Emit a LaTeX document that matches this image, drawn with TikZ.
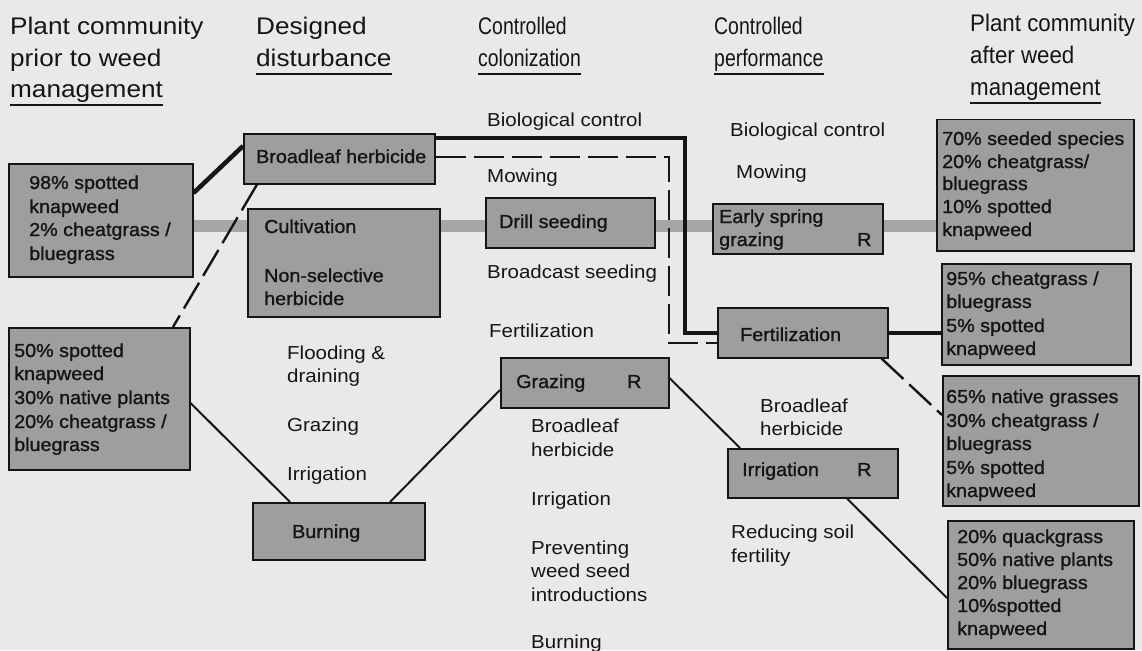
\documentclass[tikz,border=0pt]{standalone}
\usepackage{fontspec}
\setmainfont{Liberation Sans}[FakeStretch=1.09]
\newfontfamily\boxfont{Liberation Sans}[FakeStretch=1.05,FakeBold=1.2]
\newfontfamily\hdnarrow{Liberation Sans}[FakeStretch=0.81]
\newfontfamily\hdmid{Liberation Sans}[FakeStretch=0.93]
\usetikzlibrary{calc}
\definecolor{bg}{HTML}{E9E9E9}
\definecolor{boxfill}{HTML}{9E9E9E}
\definecolor{bandc}{HTML}{A6A6A6}
\definecolor{ink}{HTML}{151515}
\pgfdeclarelayer{bottom}
\pgfdeclarelayer{background}
\pgfsetlayers{bottom,background,main}
\begin{document}
\begin{tikzpicture}[x=1pt,y=-1pt,
  box/.style={draw=ink, line width=1.5pt, fill=boxfill, anchor=north west, inner sep=0pt},
  tx/.style={anchor=base west, inner sep=0pt, font=\fontsize{18.8}{22}\selectfont, text=ink},
  bx/.style={anchor=base west, inner sep=0pt, font=\fontsize{18.8}{22}\boxfont, text=ink},
  hd/.style={anchor=base west, inner sep=0pt, font=\fontsize{24}{30}\selectfont, text=ink},
  hdn/.style={anchor=base west, inner sep=0pt, font=\fontsize{24}{30}\hdnarrow, text=ink},
  hdm/.style={anchor=base west, inner sep=0pt, font=\fontsize{24}{30}\hdmid, text=ink},
  uline/.style={line width=2.4pt, draw=ink},
  thickln/.style={line width=4.5pt, draw=ink},
  dashln/.style={line width=2.4pt, draw=ink, dash pattern=on 30pt off 8pt},
  thinln/.style={line width=2pt, draw=ink},
  band/.style={line width=12pt, draw=bandc}]

\begin{pgfonlayer}{bottom}
\fill[bg] (0,0) rectangle (1142,650);
\end{pgfonlayer}
\useasboundingbox (0,0) rectangle (1142,650);

% headers
\node[hd] (h1a) at (10,35) {Plant community};
\node[hd] (h1b) at (10,67) {prior to weed};
\node[hd] (h1c) at (10,98) {management};
\node[hd] (h2a) at (256,35) {Designed};
\node[hd] (h2b) at (256,67) {disturbance};
\node[hdn] (h3a) at (478,35) {Controlled};
\node[hdn] (h3b) at (478,67) {colonization};
\node[hdn] (h4a) at (714,35) {Controlled};
\node[hdn] (h4b) at (714,67) {performance};
\node[hdm] (h5a) at (970,32) {Plant community};
\node[hdm] (h5b) at (970,64) {after weed};
\node[hdm] (h5c) at (970,96) {management};
\foreach \n in {h1c,h2b,h3b,h4b,h5c}
  \draw[uline] ($(\n.base west)+(0,7)$) -- ($(\n.base east)+(0,7)$);

% boxes
\node[box, minimum width=184pt, minimum height=113pt] (b1) at (8,163) {};
\node[box, minimum width=191pt, minimum height=50pt] (bh) at (243,133) {};
\node[box, minimum width=192pt, minimum height=108pt] (cu) at (247,208) {};
\node[box, minimum width=181pt, minimum height=142pt] (b2) at (8,327) {};
\node[box, minimum width=172pt, minimum height=57pt] (bu) at (252,502) {};
\node[box, minimum width=169pt, minimum height=50pt] (ds) at (485,197) {};
\node[box, minimum width=168pt, minimum height=50pt] (gr) at (500,357) {};
\node[box, minimum width=170pt, minimum height=50pt] (es) at (712,203) {};
\node[box, minimum width=170pt, minimum height=50pt] (fe) at (717,307) {};
\node[box, minimum width=170pt, minimum height=49pt] (ir) at (727,448) {};
\node[box, minimum width=197pt, minimum height=131pt] (r1) at (936,119) {};
\node[box, minimum width=189pt, minimum height=101pt] (r2) at (941,263) {};
\node[box, minimum width=196pt, minimum height=130pt] (r3) at (942,375) {};
\node[box, minimum width=186pt, minimum height=128pt] (r4) at (947,520) {};

% connectors
\begin{pgfonlayer}{background}
\draw[band] ($(b1.north east)+(0,63)$) -- ($(r1.north west)+(0,107)$);
\draw[thickln] ($(b1.north east)+(0,30)$) -- ($(bh.north west)+(0,13)$);
\draw[thickln] ($(bh.north east)+(0,5)$) -| ($(fe.west)+(-32,0)$) -- (fe.west);
\draw[thickln] (fe.east) -- (fe.east -| r2.west);
\draw[dashln] ($(bh.north east)+(0,24)$) -| ($(fe.north west)+(-48,36)$) -- ($(fe.north west)+(0,36)$);
\draw[dashln] ($(bh.south west)+(14,0)$) -- ($(b2.north west)+(165,0)$);
\draw[dashln] ($(fe.south east)+(-7,0)$) -- ($(r3.north west)+(0,40)$);
\draw[thinln] ($(b2.north east)+(0,76)$) -- ($(bu.north west)+(38,0)$);
\draw[thinln] ($(bu.north west)+(138,0)$) -- ($(gr.north west)+(0,33)$);
\draw[thinln] ($(gr.north east)+(0,21)$) -- ($(ir.north west)+(13,0)$);
\draw[thinln] ($(ir.south west)+(120,0)$) -- ($(r4.north west)+(0,78)$);
\end{pgfonlayer}

% box texts
\node[bx] (t1) at (29,189) {98\% spotted};
\node[bx] (t2) at (29,213) {knapweed};
\node[bx] (t3) at (29,236) {2\% cheatgrass /};
\node[bx] (t4) at (29,260) {bluegrass};
\node[bx] (t5) at (14,357) {50\% spotted};
\node[bx] (t6) at (14,380) {knapweed};
\node[bx] (t7) at (14,404) {30\% native plants};
\node[bx] (t8) at (14,428) {20\% cheatgrass /};
\node[bx] (t9) at (14,451) {bluegrass};
\node[bx] (t10) at (256,163) {Broadleaf herbicide};
\node[bx] (t11) at (264,233) {Cultivation};
\node[bx] (t12) at (264,282) {Non-selective};
\node[bx] (t13) at (264,305) {herbicide};
\node[bx] (t14) at (292,538) {Burning};
\node[bx] (t15) at (499,228) {Drill seeding};
\node[bx] (t16) at (516,388) {Grazing};
\node[bx] (t17) at (627,388) {R};
\node[bx] (t18) at (719,223) {Early spring};
\node[bx] (t19) at (719,246) {grazing};
\node[bx] (t20) at (857,246) {R};
\node[bx] (t21) at (740,341) {Fertilization};
\node[bx] (t22) at (742,476) {Irrigation};
\node[bx] (t23) at (857,476) {R};
\node[bx] (t24) at (942,145) {70\% seeded species};
\node[bx] (t25) at (942,168) {20\% cheatgrass/};
\node[bx] (t26) at (942,190) {bluegrass};
\node[bx] (t27) at (942,213) {10\% spotted};
\node[bx] (t28) at (942,236) {knapweed};
\node[bx] (t29) at (946,285) {95\% cheatgrass /};
\node[bx] (t30) at (946,308) {bluegrass};
\node[bx] (t31) at (946,332) {5\% spotted};
\node[bx] (t32) at (946,355) {knapweed};
\node[bx] (t33) at (946,403) {65\% native grasses};
\node[bx] (t34) at (946,427) {30\% cheatgrass /};
\node[bx] (t35) at (946,450) {bluegrass};
\node[bx] (t36) at (946,474) {5\% spotted};
\node[bx] (t37) at (946,497) {knapweed};
\node[bx] (t38) at (957,543) {20\% quackgrass};
\node[bx] (t39) at (957,566) {50\% native plants};
\node[bx] (t40) at (957,589) {20\% bluegrass};
\node[bx] (t41) at (957,612) {10\%spotted};
\node[bx] (t42) at (957,635) {knapweed};

% free texts: disturbance column
\node[tx] (d1) at (287,359) {Flooding \&};
\node[tx] (d2) at (287,382) {draining};
\node[tx] (d3) at (287,431) {Grazing};
\node[tx] (d4) at (287,480) {Irrigation};

% colonization column
\node[tx] (c1) at (487,127) {Biological control};
\node[tx] (c2) at (487,182) {Mowing};
\node[tx] (c3) at (487,278) {Broadcast seeding};
\node[tx] (c4) at (489,337) {Fertilization};
\node[tx] (c5) at (531,432) {Broadleaf};
\node[tx] (c6) at (531,456) {herbicide};
\node[tx] (c7) at (531,505) {Irrigation};
\node[tx] (c8) at (531,554) {Preventing};
\node[tx] (c9) at (531,577) {weed seed};
\node[tx] (c10) at (531,601) {introductions};
\node[tx] (c11) at (531,648) {Burning};

% performance column
\node[tx] (p1) at (730,136) {Biological control};
\node[tx] (p2) at (736,178) {Mowing};
\node[tx] (p3) at (760,412) {Broadleaf};
\node[tx] (p4) at (760,435) {herbicide};
\node[tx] (p5) at (731,538) {Reducing soil};
\node[tx] (p6) at (731,562) {fertility};
\end{tikzpicture}
\end{document}
